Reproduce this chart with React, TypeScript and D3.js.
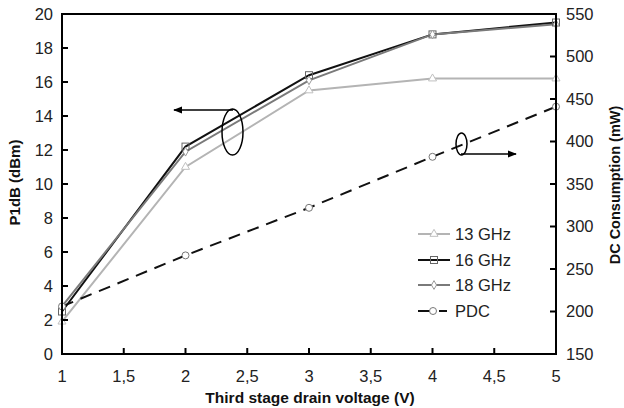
import React from "react";
import * as d3 from "d3";

const voltages = [1, 2, 3, 4, 5];
const p13 = [1.9, 11.0, 15.5, 16.2, 16.2];
const p16 = [2.5, 12.2, 16.4, 18.8, 19.5];
const p18 = [2.8, 11.9, 16.1, 18.8, 19.4];
const pdc = [206, 266, 322, 382, 441];

const xTicks = [1, 1.5, 2, 2.5, 3, 3.5, 4, 4.5, 5];
const yLeftTicks = [0, 2, 4, 6, 8, 10, 12, 14, 16, 18, 20];
const yRightTicks = [150, 200, 250, 300, 350, 400, 450, 500, 550];

const W = 624;
const H = 408;
const M = { left: 62, right: 556, top: 14, bottom: 354 };
const FONT = "Liberation Sans, Arial, sans-serif";

export default function App() {
  const x = d3.scaleLinear().domain([1, 5]).range([M.left, M.right]);
  const yL = d3.scaleLinear().domain([0, 20]).range([M.bottom, M.top]);
  const yR = d3.scaleLinear().domain([150, 550]).range([M.bottom, M.top]);

  const lineL = d3
    .line<[number, number]>()
    .x((d) => x(d[0]))
    .y((d) => yL(d[1]));
  const lineR = d3
    .line<[number, number]>()
    .x((d) => x(d[0]))
    .y((d) => yR(d[1]));

  const zip = (v: number[]) => voltages.map((vx, i) => [vx, v[i]] as [number, number]);

  const tri = d3.symbol().type(d3.symbolTriangle).size(28)() as string;
  const dia = d3.symbol().type(d3.symbolDiamond).size(22)() as string;

  const series = [
    { name: "13 GHz", data: p13, color: "#b4b4b4", marker: "tri" },
    { name: "16 GHz", data: p16, color: "#111111", marker: "sq" },
    { name: "18 GHz", data: p18, color: "#7a7a7a", marker: "dia" },
  ];

  const drawMarker = (m: string, cx: number, cy: number, key: string) => {
    if (m === "tri")
      return <path key={key} d={tri} transform={`translate(${cx},${cy})`} fill="white" stroke="#c0c0c0" strokeWidth={1} />;
    if (m === "sq")
      return <rect key={key} x={cx - 3.5} y={cy - 3.5} width={7} height={7} fill="none" stroke="#666" strokeWidth={1} />;
    if (m === "dia")
      return <path key={key} d={dia} transform={`translate(${cx},${cy})`} fill="white" stroke="#999" strokeWidth={1} />;
    return <circle key={key} cx={cx} cy={cy} r={3.5} fill="white" stroke="#777" strokeWidth={1} />;
  };

  const legendY = [234, 260, 285, 311];

  return (
    <svg width={W} height={H} style={{ position: "absolute", left: 0, top: 0 }} fontFamily={FONT}>
      <defs>
        <marker id="ah" viewBox="0 0 10 10" refX="9" refY="5" markerWidth="9" markerHeight="9" orient="auto-start-reverse" markerUnits="userSpaceOnUse">
          <path d="M0,1 L10,5 L0,9 z" fill="#000" />
        </marker>
      </defs>
      <rect width={W} height={H} fill="white" />

      {/* series lines */}
      {series.map((s) => (
        <path key={s.name} d={lineL(zip(s.data)) as string} fill="none" stroke={s.color} strokeWidth={2} />
      ))}
      <path d={lineR(zip(pdc)) as string} fill="none" stroke="#111" strokeWidth={2} strokeDasharray="12,8" />

      {/* markers */}
      {series.map((s) =>
        voltages.map((v, i) => drawMarker(s.marker, x(v), yL(s.data[i]), `${s.name}-${i}`))
      )}
      {voltages.map((v, i) => drawMarker("circ", x(v), yR(pdc[i]), `pdc-${i}`))}

      {/* frame */}
      <rect x={M.left} y={M.top} width={M.right - M.left} height={M.bottom - M.top} fill="none" stroke="#000" strokeWidth={2} />

      {/* left axis */}
      {yLeftTicks.map((t) => (
        <g key={`yl${t}`}>
          <line x1={M.left} x2={M.left + 6} y1={yL(t)} y2={yL(t)} stroke="#000" strokeWidth={2} />
          <text x={M.left - 9} y={yL(t)} dy="0.35em" textAnchor="end" fontSize={16.5} fill="#222">
            {t}
          </text>
        </g>
      ))}
      {/* right axis */}
      {yRightTicks.map((t) => (
        <g key={`yr${t}`}>
          <line x1={M.right - 6} x2={M.right} y1={yR(t)} y2={yR(t)} stroke="#000" strokeWidth={2} />
          <text x={M.right + 10} y={yR(t)} dy="0.35em" textAnchor="start" fontSize={16.5} fill="#222">
            {t}
          </text>
        </g>
      ))}
      {/* bottom axis */}
      {xTicks.map((t) => (
        <g key={`x${t}`}>
          <line x1={x(t)} x2={x(t)} y1={M.bottom} y2={M.bottom - 6} stroke="#000" strokeWidth={2} />
          <text x={x(t)} y={M.bottom + 28} textAnchor="middle" fontSize={16.5} fill="#222">
            {String(t).replace(".", ",")}
          </text>
        </g>
      ))}

      {/* axis titles */}
      <text x={310} y={403} textAnchor="middle" fontSize={15.5} fontWeight="bold" fill="#111">
        Third stage drain voltage (V)
      </text>
      <text transform={`translate(20,182.5) rotate(-90)`} textAnchor="middle" fontSize={15} fontWeight="bold" fill="#111">
        P1dB (dBm)
      </text>
      <text transform={`translate(620,185) rotate(-90)`} textAnchor="middle" fontSize={14.5} fontWeight="bold" fill="#111">
        DC Consumption (mW)
      </text>

      {/* annotations */}
      <ellipse cx={232.5} cy={132} rx={10.5} ry={23} fill="none" stroke="#000" strokeWidth={1.5} />
      <line x1={233} y1={110} x2={174} y2={110} stroke="#000" strokeWidth={1.5} markerEnd="url(#ah)" />
      <ellipse cx={461.5} cy={144} rx={5.5} ry={11} fill="none" stroke="#000" strokeWidth={1.5} />
      <line x1={461} y1={154} x2={516} y2={154} stroke="#000" strokeWidth={1.5} markerEnd="url(#ah)" />

      {/* legend */}
      {series.map((s, i) => (
        <g key={`lg${s.name}`}>
          <line x1={418} x2={450} y1={legendY[i]} y2={legendY[i]} stroke={s.color} strokeWidth={2} />
          {drawMarker(s.marker, 434, legendY[i], `lgm${i}`)}
          <text x={455} y={legendY[i]} dy="0.36em" fontSize={16.5} fill="#222">
            {s.name}
          </text>
        </g>
      ))}
      <g>
        <line x1={418} x2={450} y1={legendY[3]} y2={legendY[3]} stroke="#111" strokeWidth={2} strokeDasharray="12,9,8" />
        {drawMarker("circ", 433, legendY[3], "lgpdc")}
        <text x={455} y={legendY[3]} dy="0.36em" fontSize={16.5} fill="#222">
          PDC
        </text>
      </g>
    </svg>
  );
}
